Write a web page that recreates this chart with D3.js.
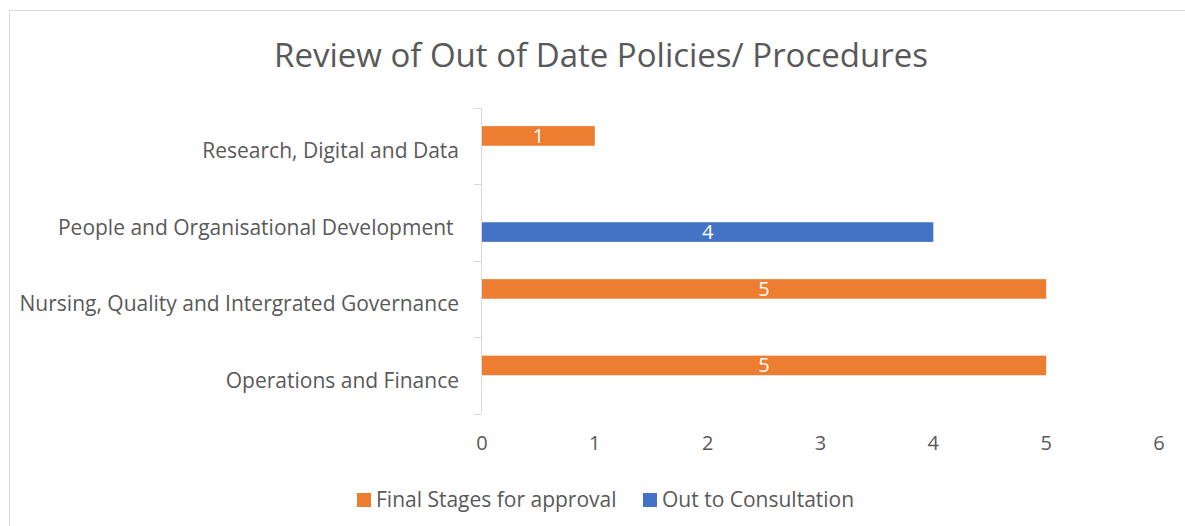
<!DOCTYPE html>
<html>
  <head>
    <meta charset="utf-8">
    <script src="https://d3js.org/d3.v7.min.js"></script>
    <style>
      body { margin: 0; background: #fff; }
      svg { display: block; font-family: "Open Sans", Lato, sans-serif; }
      .catLabel { white-space: pre; }
    </style>
  </head>
  <body>
    <div id="chart"></div>
    <script>
      // chart data (Excel order: first category sits at the bottom)
      var categories = ["Operations and Finance", "Nursing, Quality and Intergrated Governance",
                        "People and Organisational Development ", "Research, Digital and Data"];
      var seriesNames = ["Final Stages for approval", "Out to Consultation"];
      var finalStages = [5, 5, null, 1];
      var outToConsultation = [null, null, 4, null];
      var xTicks = [0, 1, 2, 3, 4, 5, 6];
      var title = "Review of Out of Date Policies/ Procedures";

      var colours = ["#ED7D31", "#4472C4"];
      var textGrey = "#595959";

      var width = 1185, height = 526;
      var svg = d3.select("#chart").append("svg")
                  .attr("width", width)
                  .attr("height", height);

      // chart frame
      svg.append("rect")
         .attr("x", 9.5).attr("y", 10.5)
         .attr("width", width).attr("height", height)
         .attr("fill", "none").attr("stroke", "#d9d9d9");

      svg.append("text")
         .attr("x", 601).attr("y", 67)
         .attr("text-anchor", "middle")
         .attr("font-size", "33px")
         .attr("fill", textGrey)
         .text(title);

      var x = d3.scaleLinear().domain([0, 6]).range([482, 1159]);

      var y0 = d3.scaleBand()
                 .domain(categories.slice().reverse())
                 .range([107.5, 413.5]);

      var y1 = d3.scaleBand()
                 .domain(seriesNames)
                 .range([0, y0.bandwidth()])
                 .paddingOuter(0.95);

      var rows = categories.map(function(c, i) {
        return {cat: c, values: [finalStages[i], outToConsultation[i]]};
      });

      // category axis line and tick marks
      var axisG = svg.append("g");
      axisG.append("line")
           .attr("x1", 481.5).attr("x2", 481.5)
           .attr("y1", 107.5).attr("y2", 413.5)
           .attr("stroke", "#d9d9d9");
      var tickYs = y0.domain().map(function(d) { return y0(d); }).concat([y0.range()[1]]);
      axisG.selectAll("line.tick")
           .data(tickYs)
           .enter().append("line")
           .attr("class", "tick")
           .attr("x1", 474).attr("x2", 481.5)
           .attr("y1", function(d) { return Math.round(d) + 0.5; })
           .attr("y2", function(d) { return Math.round(d) + 0.5; })
           .attr("stroke", "#d9d9d9");

      svg.selectAll("text.catLabel")
         .data(categories)
         .enter().append("text")
         .attr("class", "catLabel")
         .attr("x", 459)
         .attr("y", function(d) { return y0(d) + y0.bandwidth() / 2 + 12.5; })
         .attr("text-anchor", "end")
         .attr("font-size", "21px")
         .attr("fill", textGrey)
         .text(function(d) { return d; });

      // value axis labels
      svg.selectAll("text.xTick")
         .data(xTicks)
         .enter().append("text")
         .attr("class", "xTick")
         .attr("x", function(d) { return x(d); })
         .attr("y", 443)
         .attr("dy", "0.35em")
         .attr("text-anchor", "middle")
         .attr("font-size", "20px")
         .attr("fill", textGrey)
         .text(function(d) { return d; });

      // bars
      var groups = svg.selectAll("g.cat")
                      .data(rows)
                      .enter().append("g")
                      .attr("class", "cat")
                      .attr("transform", function(d) { return "translate(0," + y0(d.cat) + ")"; });

      var cells = groups.selectAll("g.bar")
                        .data(function(d) {
                          return d.values.map(function(v, i) { return {series: seriesNames[i], value: v, idx: i}; })
                                         .filter(function(e) { return e.value != null; });
                        })
                        .enter().append("g")
                        .attr("class", "bar");

      cells.append("rect")
           .attr("x", x(0))
           .attr("y", function(d) { return y1(d.series); })
           .attr("width", function(d) { return x(d.value) - x(0); })
           .attr("height", y1.bandwidth())
           .attr("fill", function(d) { return colours[d.idx]; });

      cells.append("text")
           .attr("x", function(d) { return (x(0) + x(d.value)) / 2; })
           .attr("y", function(d) { return y1(d.series) + y1.bandwidth() / 2; })
           .attr("dy", "0.35em")
           .attr("text-anchor", "middle")
           .attr("font-size", "20px")
           .attr("fill", "#fff")
           .text(function(d) { return d.value; });

      // legend
      var legendX = [357, 643];
      var legend = svg.selectAll("g.legend")
                      .data(seriesNames)
                      .enter().append("g")
                      .attr("class", "legend")
                      .attr("transform", function(d, i) { return "translate(" + legendX[i] + ",493)"; });
      legend.append("rect")
            .attr("width", 14).attr("height", 14)
            .attr("fill", function(d, i) { return colours[i]; });
      legend.append("text")
            .attr("x", 19).attr("y", 7)
            .attr("dy", "0.35em")
            .attr("font-size", "21px")
            .attr("fill", textGrey)
            .text(function(d) { return d; });
    </script>
  </body>
</html>
